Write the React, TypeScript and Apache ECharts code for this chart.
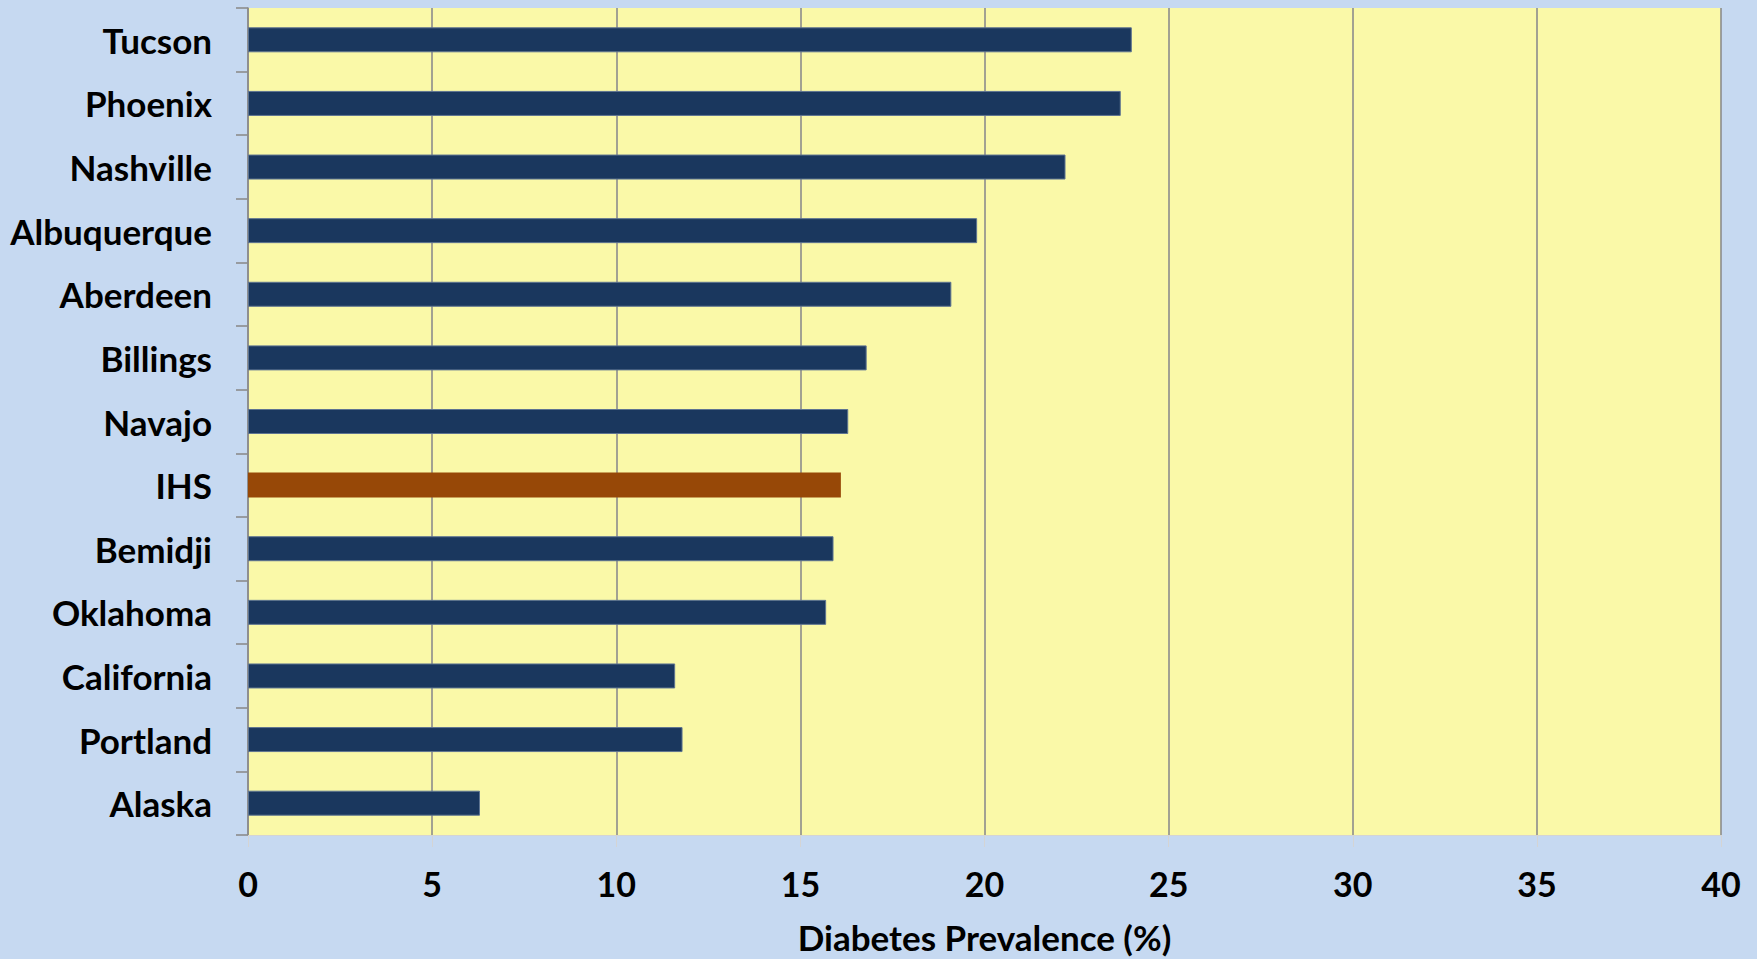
import React, { useEffect, useRef } from "react";
import * as echarts from "echarts";

const categories = [
  "Tucson",
  "Phoenix",
  "Nashville",
  "Albuquerque",
  "Aberdeen",
  "Billings",
  "Navajo",
  "IHS",
  "Bemidji",
  "Oklahoma",
  "California",
  "Portland",
  "Alaska",
];
const prevalence = [24.0, 23.7, 22.2, 19.8, 19.1, 16.8, 16.3, 16.1, 15.9, 15.7, 11.6, 11.8, 6.3];
const highlightCategory = "IHS";
const axisTitle = "Diabetes Prevalence (%)";
const xMin = 0;
const xMax = 40;
const xStep = 5;

const FONT = "Lato, 'Open Sans', sans-serif";

export default function App() {
  const ref = useRef<HTMLDivElement>(null);
  useEffect(() => {
    if (!ref.current) return;
    const chart = echarts.init(ref.current, null, { renderer: "svg" });
    chart.setOption({
      animation: false,
      backgroundColor: "#C6D9F1",
      textStyle: { fontFamily: FONT },
      grid: { left: 248, right: 36, top: 8, bottom: 121, containLabel: false, show: true, backgroundColor: "#FAF9A8", borderWidth: 0 },
      xAxis: {
        type: "value",
        min: xMin,
        max: xMax,
        interval: xStep,
        name: axisTitle,
        nameLocation: "middle",
        nameGap: 84,
        nameTextStyle: { fontFamily: FONT, fontWeight: "bold", fontSize: 35, color: "#000" },
        axisLine: { show: true, lineStyle: { color: "#D4D4D4", width: 1 } },
        axisTick: { show: true, length: 12, lineStyle: { color: "#D4D4D4", width: 1 } },
        axisLabel: { margin: 31, fontFamily: FONT, fontWeight: "bold", fontSize: 34, color: "#000" },
        splitLine: { show: true, lineStyle: { color: "#8C8C8C", width: 1.6 } },
      },
      yAxis: {
        type: "category",
        data: categories,
        inverse: true,
        axisLine: { show: true, lineStyle: { color: "#8C8C8C", width: 1.6 } },
        axisTick: { show: true, inside: false, length: 12, lineStyle: { color: "#8C8C8C", width: 1.6 } },
        axisLabel: { margin: 36, padding: [0, 0, 4, 0], fontFamily: FONT, fontWeight: "bold", fontSize: 35, color: "#000" },
        splitLine: { show: false },
      },
      series: [
        {
          type: "bar",
          barWidth: 25,
          data: prevalence.map((v, i) =>
            categories[i] === highlightCategory
              ? { value: v, itemStyle: { color: "#974807", borderWidth: 0 } }
              : { value: v, itemStyle: { color: "#1A375E", borderColor: "#5E7491", borderWidth: 1 } }
          ),
        },
      ],
    });
    return () => chart.dispose();
  }, []);
  return (
    <div
      ref={ref}
      style={{ position: "absolute", left: 0, top: 0, width: 1757, height: 959 }}
    />
  );
}
